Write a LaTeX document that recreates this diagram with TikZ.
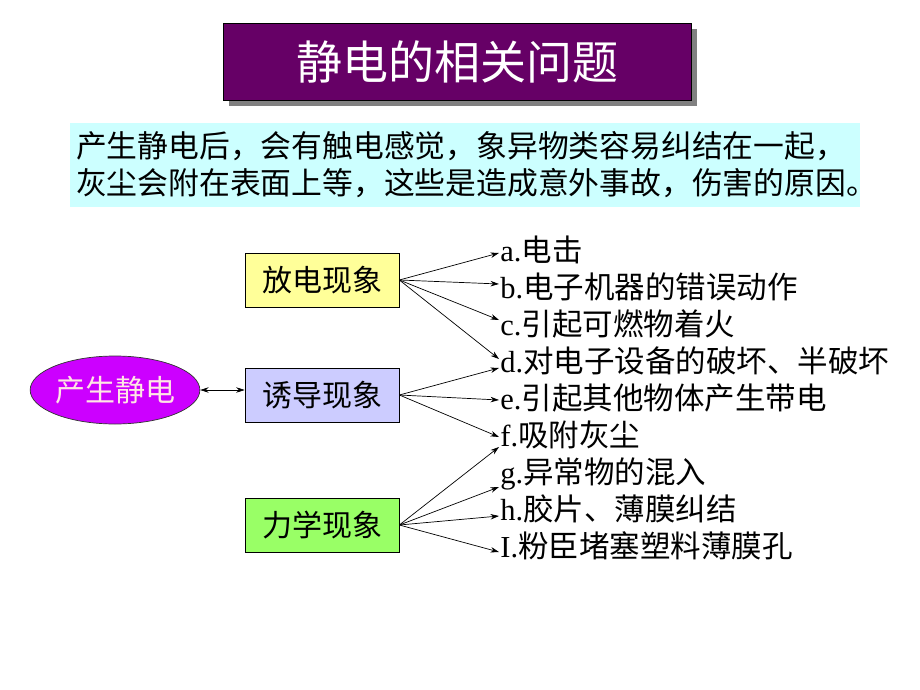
\documentclass[tikz,border=0pt]{standalone}
\usepackage{fontspec}
\setmainfont{Liberation Serif}
\newfontfamily\cjk{Noto Sans CJK SC}
\usetikzlibrary{arrows.meta,shapes.geometric,shadows}
\definecolor{titlepurple}{HTML}{660066}
\definecolor{descblue}{HTML}{CCFFFF}
\definecolor{fdyellow}{HTML}{FFFF99}
\definecolor{ydblue}{HTML}{CCCCFF}
\definecolor{lxgreen}{HTML}{99FF66}
\definecolor{jdpink}{HTML}{CC00FF}
\begin{document}
\begin{tikzpicture}[>={Stealth[length=8.5pt,width=5.5pt]},x=1pt,y=-1pt,line width=0.7pt,
	kind/.style={draw,minimum width=154pt,minimum height=54pt,inner sep=0pt,font=\fontsize{30}{36}\selectfont\cjk},
	item/.style={anchor=west,inner sep=0pt,text height=26pt,text depth=4pt,font=\fontsize{30.5}{36}\selectfont}]
			\useasboundingbox[fill=white] (0,0) rectangle (920,690);
			\node[draw,fill=titlepurple,text=white,minimum width=468pt,minimum height=77pt,
				drop shadow={shadow xshift=6pt,shadow yshift=-6pt,fill=gray,opacity=1},
				font=\fontsize{46}{50}\selectfont\cjk] (title) at (457,61.5) {静电的相关问题};
			\node[fill=descblue,minimum width=790pt,minimum height=84pt,text width=778pt,inner xsep=0pt,align=left,
				font=\fontsize{30.8}{37}\selectfont\cjk] (desc) at (465,165)
				{产生静电后，会有触电感觉，象异物类容易纠结在一起，\\灰尘会附在表面上等，这些是造成意外事故，伤害的原因。};
			\node[ellipse,draw=black!80,fill=jdpink,text=pink!40,minimum width=154pt,minimum height=68pt,inner sep=0pt,
				font=\fontsize{30}{36}\selectfont\cjk] (jingdian) at (115,390) {产生静电};
			\node[kind,fill=fdyellow] (fangdian) at (322,280) {放电现象};
			\node[kind,fill=ydblue] (youdao) at (322,395) {诱导现象};
			\node[kind,fill=lxgreen] (lixue) at (322,525) {力学现象};
			\foreach \n/\y/\t in {
				a/250/{a.\cjk 电击},
				b/287/{b.\cjk 电子机器的错误动作},
				c/324/{c.\cjk 引起可燃物着火},
				d/361/{d.\cjk 对电子设备的破坏、半破坏},
				e/398/{e.\cjk 引起其他物体产生带电},
				f/435/{f.\cjk 吸附灰尘},
				g/472/{g.\cjk 异常物的混入},
				h/509/{h.\cjk 胶片、薄膜纠结},
				i/546/{I.\cjk 粉臣堵塞塑料薄膜孔}
			}
			\node[item] (l\n) at (500,\y) {\t};
			\draw[<->] (jingdian.east) -- (jingdian.east -| youdao.west);
			\foreach \s/\d/\dy in {
				fangdian/a/-3,
				fangdian/b/3,
				fangdian/c/4,
				fangdian/d/2,
				youdao/d/-7,
				youdao/e/-2,
				youdao/f/-2,
				lixue/f/-12,
				lixue/g/-15,
				lixue/h/-7,
				lixue/i/-6
			}
			\draw[->] (\s.east) -- ([xshift=-1pt,yshift=\dy pt]l\d.west);
		\end{tikzpicture}
\end{document}
